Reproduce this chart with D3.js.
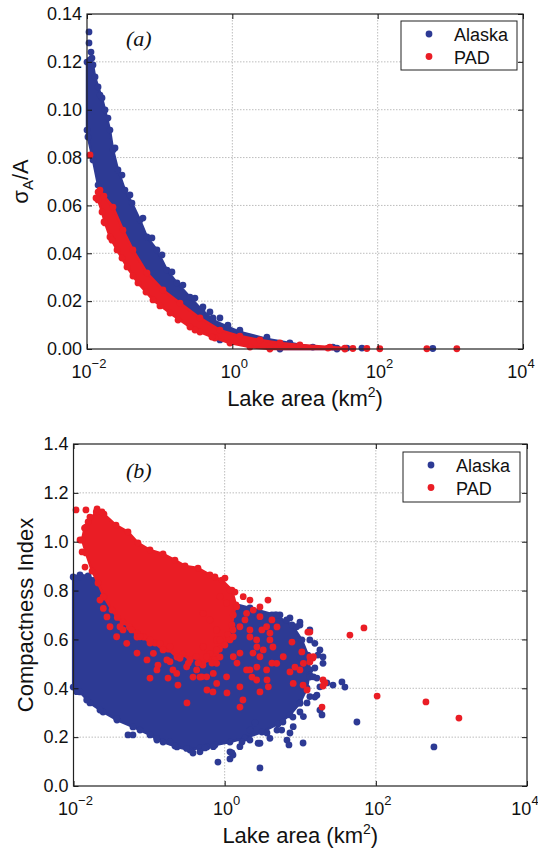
<!DOCTYPE html>
<html><head><meta charset="utf-8">
<script src="https://cdn.jsdelivr.net/npm/d3@7"></script>
<style>body{margin:0;background:#fff}</style></head>
<body><svg id="c" width="538" height="853"></svg>
<script>
// ---------- tick / category data ----------
const seriesNames = ["Alaska", "PAD"];
const xTickExps = [-2, 0, 2, 4];
const yTicksA = [0, 0.02, 0.04, 0.06, 0.08, 0.10, 0.12, 0.14];
const yTicksB = [0, 0.2, 0.4, 0.6, 0.8, 1.0, 1.2, 1.4];

// ---------- panel (a): sigma_A/A vs lake area ----------
// dense core envelopes
const aAlaskaCoreArea  = [0.0100,0.0121,0.0129,0.0142,0.0161,0.0177,0.0207,0.0228,0.0267,0.0333,0.0416,0.0536,0.0669,0.0918,0.126,0.173,0.261,0.382,0.541,0.869,1.27,2.99,6.19,12.8,27.5,4.52,0.675,0.358,0.190,0.101,0.0536,0.0333,0.0228,0.0177,0.0142,0.0121,0.0103,0.0100];
const aAlaskaCoreRatio = [0.1199,0.1187,0.1137,0.1095,0.1049,0.0999,0.0915,0.0832,0.0748,0.0664,0.0610,0.0539,0.0468,0.0414,0.0330,0.0276,0.0217,0.0163,0.0121,0.0092,0.0071,0.0042,0.0025,0.0008,0.0000,0.0000,0.0038,0.0088,0.0155,0.0226,0.0309,0.0393,0.0497,0.0581,0.0685,0.0790,0.0886,0.0915];
// individual points
const aAlaskaArea  = [0.01065,0.01065,0.01135,0.0117,0.0110,0.869,1.27,2.99,0.541,0.394,24.2,27.5,37.7,60.7,574,
  0.0151,0.01944,0.0243,0.0303,0.0390,0.0589,0.0783,0.1076,0.1476,0.209,0.306,0.492,0.675];
const aAlaskaRatio = [0.1325,0.1279,0.1241,0.1216,0.1208,0.0100,0.0079,0.0050,0.0130,0.0176,0.0008,0.0004,0.0004,0.0004,0.0002,
  0.1061,0.0965,0.0840,0.0727,0.0644,0.0547,0.0464,0.0393,0.0322,0.0267,0.0213,0.0155,0.0130];
const aPadCoreArea  = [0.0151,0.0171,0.0228,0.0313,0.0429,0.0669,0.111,0.190,0.358,0.675,1.27,2.40,4.52,8.51,22.0,35.4,35.4,3.29,1.75,0.927,0.576,0.358,0.261,0.139,0.0809,0.0503,0.0355,0.0259,0.0207,0.0177,0.0161,0.0142];
const aPadCoreRatio = [0.0664,0.0639,0.0593,0.0497,0.0414,0.0318,0.0247,0.0192,0.0130,0.0079,0.0054,0.0038,0.0025,0.0017,0.0008,0.0004,0.0000,0.0000,0.0008,0.0025,0.0046,0.0071,0.0092,0.0150,0.0205,0.0276,0.0343,0.0414,0.0468,0.0527,0.0573,0.0623];
const aPadArea  = [0.0110,0.0142,20.7,45.6,71.0,107,475,1228,
  0.0133,0.01714,0.0221,0.0303,0.0429,0.0648,0.101,0.179,0.306,0.524];
const aPadRatio = [0.0811,0.0656,0.0004,0.0002,0.0002,0.0001,0.0001,0.0001,
  0.0631,0.0531,0.0455,0.0380,0.0305,0.0238,0.0180,0.0121,0.0079,0.0050];

// ---------- panel (b): compactness index vs lake area ----------
const bAlaskaCoreArea = [0.0099,0.0122,0.0156,0.0192,0.0304,0.0559,0.139,0.348,0.867,2.16,4.63,7.77,10.5,12.6,13.4,12.3,9.91,7.31,5.07,3.11,1.86,1.175,0.744,0.471,0.348,0.234,0.153,0.1028,0.0612,0.0376,0.0246,0.0165,0.0122,0.0099];
const bAlaskaCoreCI   = [0.856,0.864,0.860,0.843,0.823,0.802,0.782,0.774,0.761,0.729,0.700,0.659,0.598,0.536,0.475,0.401,0.340,0.291,0.254,0.221,0.196,0.180,0.168,0.156,0.147,0.160,0.180,0.209,0.242,0.270,0.303,0.340,0.385,0.405];
const bAlaskaArea = [0.0526,0.0612,0.220,0.381,0.815,1.175,1.288,2.93,0.583,1.249,1.694,2.16,3.63,6.67,7.09,10.9,19.4,18.2,2.52,56.2,587,35.6,39.0,27.1,16.6,13.4,13.4,9.91,15.6,22.5,16.6,17.1,20.0,5.39,2.75,4.22,2.37,7.31,9.91,0.548,0.127,0.0111,0.0122,9.91,13.4,10.9,15.6,12.3,9.91,8.0,5.90,4.92,7.31,
  0.0110,0.01496,0.0224,0.0372,0.0759,0.126,0.189,0.314,0.471,0.707,1.175,1.59,2.16,2.93,
  13.4,15.6,18.2,20.0,14.9,18.2,13.4,9.91,11.0,8.07,5.68,3.97,2.77,2.65,4.88,6.61,8.96];
const bAlaskaCI   = [0.209,0.209,0.164,0.135,0.098,0.111,0.127,0.074,0.160,0.135,0.180,0.229,0.217,0.188,0.168,0.176,0.291,0.311,0.258,0.262,0.160,0.426,0.405,0.413,0.442,0.454,0.598,0.659,0.483,0.422,0.372,0.536,0.528,0.700,0.700,0.700,0.708,0.688,0.671,0.156,0.188,0.851,0.856,0.528,0.446,0.405,0.364,0.340,0.303,0.282,0.262,0.229,0.217,
  0.386,0.352,0.311,0.277,0.229,0.195,0.181,0.154,0.140,0.161,0.140,0.161,0.188,0.175,
  0.639,0.584,0.557,0.502,0.447,0.406,0.366,0.339,0.284,0.243,0.229,0.195,0.175,0.707,0.700,0.680,0.652];
const bPadCoreArea = [0.0156,0.0200,0.0253,0.0365,0.0526,0.0713,0.1028,0.153,0.220,0.299,0.444,0.639,0.921,1.249,1.41,1.30,1.249,1.10,1.009,0.85,0.744,0.60,0.516,0.42,0.348,0.28,0.234,0.18,0.153,0.12,0.1028,0.085,0.0692,0.055,0.0452,0.038,0.0323,0.0253,0.0211,0.0176,0.0146,0.0130,0.0140];
const bPadCoreCI   = [1.081,1.122,1.113,1.068,1.040,0.995,0.966,0.950,0.925,0.901,0.892,0.864,0.843,0.802,0.741,0.700,0.659,0.620,0.577,0.560,0.516,0.520,0.495,0.530,0.516,0.540,0.528,0.560,0.557,0.585,0.585,0.610,0.626,0.650,0.671,0.690,0.720,0.774,0.831,0.880,0.954,1.007,1.056];
const bPadArea = [0.0108,0.0146,0.0205,0.0238,0.0146,0.0130,0.0142,0.0122,0.0165,0.0277,0.0246,0.0692,0.0938,0.1028,0.178,0.241,0.317,0.131,0.583,0.700,0.471,1.072,1.746,1.594,2.93,2.16,2.30,3.63,4.22,4.35,3.97,7.31,9.91,10.5,13.4,14.7,20.0,21.2,19.4,7.77,12.6,3.74,2.16,1.009,0.744,1.369,4.22,4.92,3.11,2.16,2.67,1.288,1.175,1.594,0.867,0.679,1.455,2.67,2.37,13.4,45.4,69.6,104,460,1257,13.4,10.9,12.3,8.51,20.0,2.93,1.856,0.0452,0.0692,0.127,0.207,0.381,0.444,0.172,0.497,0.426,0.314,0.189,0.114,0.232,0.0506,0.0372,0.0304,
  0.256,0.330,0.578,0.707,0.784,0.639,0.521,0.784,0.189,0.139,0.103,0.0759,0.0589,0.0412,0.0248,0.0224,
  0.521,0.639,0.784,0.867,1.30,1.59,2.16,2.65,3.24,3.97,3.59,2.93,1.95,1.44,1.06,0.867,1.175,1.76,2.39,0.784,0.578,1.30,1.95,2.65,3.59,1.06,0.784,1.59,2.93,4.88,5.96,8.07,11.0,14.9,3.78];
const bPadCI   = [1.130,1.130,1.134,1.122,1.060,0.958,0.896,1.007,1.101,0.692,0.774,0.544,0.516,0.442,0.442,0.413,0.340,0.495,0.393,0.385,0.446,0.381,0.352,0.323,0.385,0.475,0.446,0.434,0.503,0.569,0.626,0.467,0.475,0.549,0.528,0.524,0.434,0.422,0.323,0.589,0.630,0.761,0.761,0.851,0.856,0.794,0.680,0.651,0.639,0.610,0.569,0.639,0.598,0.544,0.528,0.503,0.503,0.487,0.544,0.630,0.618,0.647,0.368,0.344,0.278,0.508,0.413,0.393,0.487,0.409,0.733,0.680,0.639,0.610,0.475,0.475,0.446,0.503,0.516,0.447,0.475,0.488,0.509,0.543,0.461,0.584,0.611,0.652,
  0.523,0.502,0.447,0.461,0.502,0.543,0.570,0.598,0.570,0.584,0.598,0.611,0.639,0.652,0.727,0.761,
  0.707,0.680,0.639,0.598,0.611,0.652,0.639,0.598,0.557,0.598,0.652,0.693,0.707,0.734,0.748,0.775,0.802,0.775,0.720,0.557,0.529,0.529,0.475,0.434,0.475,0.447,0.420,0.406,0.529,0.502,0.529,0.420,0.502,0.529,0.406];

// ---------- drawing ----------
const svg = d3.select("#c");
const BLUE = "#2d3a94", RED = "#ea1d25";
const FONT = "Liberation Sans, Arial, Helvetica, sans-serif";
const zip = (a, b) => a.map((v, i) => [v, b[i]]);

function drawPanel(o) {
  const x = d3.scaleLog().domain([1e-2, 1e4]).range([o.l, o.r]);
  const y = d3.scaleLinear().domain([0, o.ymax]).range([o.b, o.t]);
  const g = svg.append("g").attr("font-family", FONT);

  // grid
  const grid = g.append("g").attr("stroke", "#bdbdbd").attr("stroke-width", 1).attr("stroke-dasharray", "1.5,1.5");
  grid.selectAll("line.h").data(o.yTicks.filter(t => t > 0 && t < o.ymax - 1e-9)).join("line")
    .attr("x1", o.l).attr("x2", o.r).attr("y1", d => y(d)).attr("y2", d => y(d));
  grid.selectAll("line.v").data(xTickExps.slice(1, -1)).join("line")
    .attr("x1", d => x(10 ** d)).attr("x2", d => x(10 ** d)).attr("y1", o.t).attr("y2", o.b);

  // data
  const line = d3.line().x(d => x(d[0])).y(d => y(d[1])).curve(d3.curveLinearClosed);
  o.series.forEach(s => {
    const core = zip(s.coreX, s.coreY);
    g.append("path").datum(core).attr("d", line)
      .attr("fill", s.color).attr("stroke", s.color).attr("stroke-width", 2.5).attr("stroke-linejoin", "round");
    g.append("g").selectAll("circle").data(core.concat(zip(s.x, s.y))).join("circle")
      .attr("cx", d => x(d[0])).attr("cy", d => y(d[1])).attr("r", 3.4).attr("fill", s.color);
  });

  // axes
  const xv = xTickExps.map(e => 10 ** e);
  const ax = [
    g.append("g").attr("transform", `translate(0,${o.b})`).call(d3.axisBottom(x).tickValues(xv).tickSize(-5).tickFormat("")),
    g.append("g").attr("transform", `translate(0,${o.t})`).call(d3.axisTop(x).tickValues(xv).tickSize(-5).tickFormat("")),
    g.append("g").attr("transform", `translate(${o.l},0)`).call(d3.axisLeft(y).tickValues(o.yTicks).tickSize(-5).tickPadding(5).tickFormat(d3.format(o.fmt))),
    g.append("g").attr("transform", `translate(${o.r},0)`).call(d3.axisRight(y).tickValues(o.yTicks).tickSize(-5).tickFormat(""))
  ];
  ax.forEach(a => {
    a.select(".domain").remove();
    a.selectAll(".tick line").attr("stroke", "#111");
    a.selectAll("text").attr("font-size", 18).attr("font-family", FONT).attr("fill", "#111");
  });
  g.append("rect").attr("x", o.l).attr("y", o.t).attr("width", o.r - o.l).attr("height", o.b - o.t)
    .attr("fill", "none").attr("stroke", "#222").attr("stroke-width", 1.2);

  // x tick labels 10^n
  g.append("g").selectAll("text").data(xTickExps).join("text")
    .attr("x", (d, i) => x(10 ** d) + (i === xTickExps.length - 1 ? -2 : 2)).attr("y", o.b + 29).attr("text-anchor", "middle")
    .attr("font-size", 18).attr("fill", "#111")
    .each(function (d) {
      const t = d3.select(this);
      t.append("tspan").text("10");
      t.append("tspan").attr("dy", -10).attr("font-size", 13).text(d < 0 ? "\u2212" + (-d) : String(d));
    });

  // x label
  const xl = g.append("text").attr("x", (o.l + o.r) / 2).attr("y", o.b + 57).attr("text-anchor", "middle")
    .attr("font-size", 22).attr("fill", "#111");
  xl.append("tspan").text("Lake area (km");
  xl.append("tspan").attr("dy", -9).attr("font-size", 14).text("2");
  xl.append("tspan").attr("dy", 9).text(")");

  // y label
  const yl = g.append("text").attr("transform", `translate(${o.ylx},${(o.t + o.b) / 2}) rotate(-90)`)
    .attr("text-anchor", "middle").attr("font-size", 22).attr("fill", "#111");
  o.ylabel(yl);

  // panel tag
  g.append("text").attr("x", o.tagX).attr("y", o.tagY).attr("font-family", "Liberation Serif, Times New Roman, serif")
    .attr("font-style", "italic").attr("font-size", 22).attr("fill", "#111").text(o.tag);

  // legend
  const lg = g.append("g");
  lg.append("rect").attr("x", o.lgX).attr("y", o.lgY).attr("width", o.lgW).attr("height", o.lgH)
    .attr("fill", "#fff").attr("stroke", "#222").attr("stroke-width", 1);
  o.series.forEach((s, i) => {
    const cy = o.lgY + 13 + i * 22.5;
    lg.append("circle").attr("cx", o.lgX + 28).attr("cy", cy).attr("r", 3.4).attr("fill", s.color);
    lg.append("text").attr("x", o.lgX + 53).attr("y", cy + 7).attr("font-size", 18).attr("fill", "#111").text(s.name);
  });
}

drawPanel({
  l: 87, r: 523, t: 14, b: 349, ymax: 0.14, yTicks: yTicksA, fmt: ".2f",
  ylx: 28,
  ylabel: t => {
    t.append("tspan").text("\u03c3");
    t.append("tspan").attr("dy", 5).attr("font-size", 15).text("A");
    t.append("tspan").attr("dy", -5).text("/A");
  },
  tag: "(a)", tagX: 126, tagY: 46,
  lgX: 401, lgY: 21, lgW: 116, lgH: 49,
  series: [
    { name: seriesNames[0], color: BLUE, coreX: aAlaskaCoreArea, coreY: aAlaskaCoreRatio, x: aAlaskaArea, y: aAlaskaRatio },
    { name: seriesNames[1], color: RED, coreX: aPadCoreArea, coreY: aPadCoreRatio, x: aPadArea, y: aPadRatio }
  ]
});

drawPanel({
  l: 73.5, r: 527, t: 444, b: 786, ymax: 1.4, yTicks: yTicksB, fmt: ".1f",
  ylx: 33,
  ylabel: t => t.text("Compactness Index"),
  tag: "(b)", tagX: 126, tagY: 478,
  lgX: 403, lgY: 452, lgW: 117, lgH: 50,
  series: [
    { name: seriesNames[0], color: BLUE, coreX: bAlaskaCoreArea, coreY: bAlaskaCoreCI, x: bAlaskaArea, y: bAlaskaCI },
    { name: seriesNames[1], color: RED, coreX: bPadCoreArea, coreY: bPadCoreCI, x: bPadArea, y: bPadCI }
  ]
});
</script>
</body></html>
